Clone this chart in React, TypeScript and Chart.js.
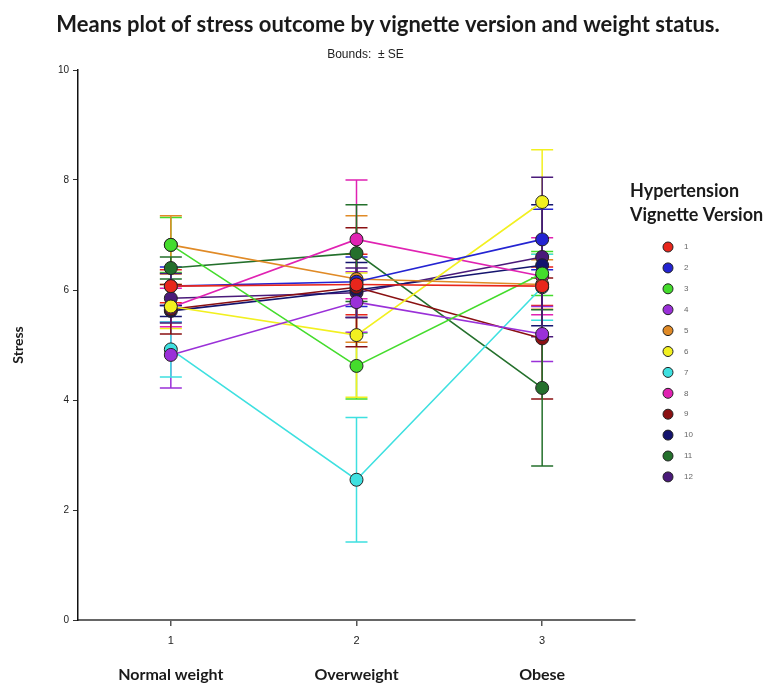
import React, { useEffect, useRef } from "react";
import { Chart, registerables } from "chart.js";

Chart.register(...registerables);

// Weight status groups on the x axis
const weightCodes = [1, 2, 3];
const weightNames = ["Normal weight", "Overweight", "Obese"];

// Hypertension vignette versions (series)
const versionNames = ["1", "2", "3", "4", "5", "6", "7", "8", "9", "10", "11", "12"];
const versionColors = [
  "#e8261c", "#2424d2", "#44dc2c", "#9a30d8", "#e08a26", "#f2f020",
  "#3ee0e0", "#e022b2", "#8a1012", "#14146e", "#24702c", "#4a1a7a",
];

// Mean stress per version, one array per weight group
const meanNormal = [6.07, 6.07, 6.82, 4.82, 6.82, 5.7, 4.92, 5.68, 5.65, 5.62, 6.4, 5.85];
const meanOver = [6.1, 6.15, 4.62, 5.78, 6.2, 5.18, 2.55, 6.92, 6.05, 6.0, 6.67, 5.95];
const meanObese = [6.07, 6.92, 6.3, 5.2, 6.1, 7.6, 6.05, 6.25, 5.12, 6.45, 4.22, 6.6];

// Standard errors, same layout
const seNormal = [0.3, 0.35, 0.5, 0.6, 0.53, 0.4, 0.5, 0.35, 0.45, 0.1, 0.2, 0.45];
const seOver = [0.55, 0.45, 0.6, 0.55, 1.15, 1.13, 1.13, 1.08, 1.08, 0.5, 0.88, 0.45];
const seObese = [0.35, 0.55, 0.4, 0.5, 0.45, 0.95, 0.6, 0.7, 1.1, 1.1, 1.42, 1.45];

// Y axis tick values
const stressTicks = [0, 2, 4, 6, 8, 10];

const TITLE = "Means plot of stress outcome by vignette version and weight status.";
const SUBTITLE = "Bounds:  \u00b1 SE";
const LEGEND_TITLE = ["Hypertension", "Vignette Version"];

const narrowFont = '"Liberation Sans Narrow", "Liberation Sans", Arial, sans-serif';
const humanistFont = 'Lato, "Open Sans", sans-serif';

const meansByGroup = [meanNormal, meanOver, meanObese];
const seByGroup = [seNormal, seOver, seObese];

const errorBarsPlugin = {
  id: "errorBars",
  beforeDatasetsDraw(chart: any) {
    const { ctx } = chart;
    const x = chart.scales.x;
    const y = chart.scales.y;
    ctx.save();
    ctx.lineWidth = 1.5;
    versionNames.forEach((_, vi) => {
      ctx.strokeStyle = versionColors[vi];
      weightCodes.forEach((code, gi) => {
        const m = meansByGroup[gi][vi];
        const se = seByGroup[gi][vi];
        const px = x.getPixelForValue(code);
        const top = y.getPixelForValue(m + se);
        const bot = y.getPixelForValue(m - se);
        ctx.beginPath();
        ctx.moveTo(px, top);
        ctx.lineTo(px, bot);
        ctx.moveTo(px - 11, top);
        ctx.lineTo(px + 11, top);
        ctx.moveTo(px - 11, bot);
        ctx.lineTo(px + 11, bot);
        ctx.stroke();
      });
    });
    ctx.restore();
  },
};

const textPlugin = {
  id: "textBlocks",
  afterDraw(chart: any) {
    const { ctx, chartArea } = chart;
    ctx.save();
    // title and subtitle
    ctx.fillStyle = "#1a1a1a";
    ctx.textAlign = "center";
    ctx.textBaseline = "middle";
    ctx.font = `bold 22px ${humanistFont}`;
    ctx.fillText(TITLE, 388, 25);
    ctx.font = `12px ${narrowFont}`;
    ctx.fillStyle = "#222";
    ctx.fillText(SUBTITLE, (chartArea.left + chartArea.right) / 2 + 9, 55);

    // legend
    ctx.textAlign = "left";
    ctx.fillStyle = "#1a1a1a";
    ctx.font = `bold 18px ${humanistFont}`;
    ctx.fillText(LEGEND_TITLE[0], 630, 191);
    ctx.fillText(LEGEND_TITLE[1], 630, 215);
    versionNames.forEach((name, i) => {
      const cy = 247 + i * 20.9;
      ctx.beginPath();
      ctx.arc(668, cy, 5, 0, Math.PI * 2);
      ctx.fillStyle = versionColors[i];
      ctx.fill();
      ctx.lineWidth = 1;
      ctx.strokeStyle = "#222";
      ctx.stroke();
      ctx.fillStyle = "#666";
      ctx.font = `8px ${narrowFont}`;
      ctx.fillText(name, 684, cy);
    });
    ctx.restore();
  },
};

export default function App() {
  const canvasRef = useRef<HTMLCanvasElement | null>(null);

  useEffect(() => {
    const canvas = canvasRef.current;
    if (!canvas) return;

    const datasets = versionNames.map((name, vi) => ({
      label: name,
      data: weightCodes.map((code, gi) => ({ x: code, y: meansByGroup[gi][vi] })),
      borderColor: versionColors[vi],
      backgroundColor: versionColors[vi],
      pointBackgroundColor: versionColors[vi],
      pointBorderColor: "#222",
      pointBorderWidth: 1,
      pointRadius: 6.5,
      borderWidth: 1.6,
      tension: 0,
      xAxisID: "x",
      yAxisID: "y",
    }));

    const fixTicks = (scale: any) => {
      scale.ticks = weightCodes.map((v) => ({ value: v }));
    };

    const chart = new Chart(canvas, {
      type: "line",
      data: { datasets },
      options: {
        animation: false,
        responsive: false,
        maintainAspectRatio: false,
        devicePixelRatio: 1,
        layout: { padding: { top: 70, right: 142, bottom: 0, left: 0 } },
        plugins: {
          legend: { display: false },
          title: { display: false },
          tooltip: { enabled: false },
        },
        scales: {
          x: {
            type: "linear",
            position: "bottom",
            weight: 0,
            min: 0.5,
            max: 3.5,
            afterBuildTicks: fixTicks,
            afterFit: (s: any) => {
              s.height = 34;
            },
            grid: { drawOnChartArea: false, drawTicks: true, tickLength: 6, color: "#555", lineWidth: 1.5 },
            border: { display: true, color: "#666", width: 2 },
            ticks: {
              color: "#222",
              padding: 8,
              font: { family: narrowFont, size: 11 },
              callback: (v: any) => String(v),
            },
          },
          x2: {
            type: "linear",
            position: "bottom",
            weight: 1,
            min: 0.5,
            max: 3.5,
            afterBuildTicks: fixTicks,
            afterFit: (s: any) => {
              s.height = 33;
            },
            grid: { display: false },
            border: { display: false },
            ticks: {
              color: "#1a1a1a",
              padding: 3,
              font: { family: humanistFont, size: 16, weight: "bold" },
              callback: (v: any) => weightNames[weightCodes.indexOf(Number(v))] ?? "",
            },
          },
          y: {
            type: "linear",
            min: 0,
            max: 10,
            afterBuildTicks: (s: any) => {
              s.ticks = stressTicks.map((v) => ({ value: v }));
            },
            afterFit: (s: any) => {
              s.width = 78;
            },
            grid: { drawOnChartArea: false, drawTicks: true, tickLength: 5, color: "#333", lineWidth: 1 },
            border: { display: true, color: "#111", width: 1.5 },
            ticks: {
              color: "#222",
              padding: 4,
              font: { family: narrowFont, size: 10 },
            },
            title: {
              display: true,
              text: "Stress",
              color: "#1a1a1a",
              padding: { top: 10, bottom: 0 },
              font: { family: humanistFont, size: 14, weight: "bold" },
            },
          },
        },
      },
      plugins: [errorBarsPlugin, textPlugin],
    });

    return () => chart.destroy();
  }, []);

  return (
    <div style={{ position: "fixed", left: 0, top: 0, width: 777, height: 687, background: "#fff" }}>
      <canvas ref={canvasRef} width={777} height={687} style={{ width: 777, height: 687 }} />
    </div>
  );
}
